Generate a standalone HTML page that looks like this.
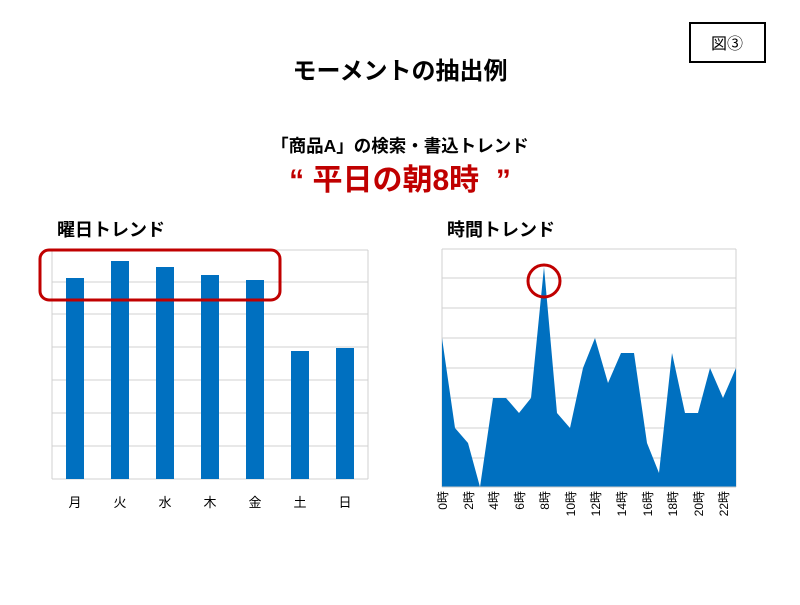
<!DOCTYPE html>
<html><head><meta charset="utf-8"><style>
body{margin:0;width:800px;height:600px;background:#fff;overflow:hidden}
svg text{font-family:"Liberation Sans","Noto Sans CJK JP",sans-serif}
</style></head><body>
<svg width="800" height="600" xmlns="http://www.w3.org/2000/svg">
<rect x="690" y="23" width="75" height="39" fill="none" stroke="#000" stroke-width="2"/>
<text x="727" y="49" font-size="16" text-anchor="middle">図③</text>
<text x="400" y="79" font-size="24" font-weight="bold" text-anchor="middle">モーメントの抽出例</text>
<text x="400" y="152" font-size="17.5" font-weight="bold" text-anchor="middle">「商品A」の検索・書込トレンド</text>
<text x="400" y="190" font-size="30" font-weight="bold" fill="#c00000" text-anchor="middle" xml:space="preserve">“ 平日の朝8時  ”</text>
<text x="57" y="236" font-size="18" font-weight="bold">曜日トレンド</text>
<text x="447" y="236" font-size="18" font-weight="bold">時間トレンド</text>
<g stroke="#d0d0d0" stroke-width="1">
<line x1="52" y1="250" x2="368" y2="250"/><line x1="52" y1="282" x2="368" y2="282"/><line x1="52" y1="314" x2="368" y2="314"/><line x1="52" y1="347" x2="368" y2="347"/><line x1="52" y1="380" x2="368" y2="380"/><line x1="52" y1="413" x2="368" y2="413"/><line x1="52" y1="446" x2="368" y2="446"/>
<line x1="52" y1="250" x2="52" y2="479"/><line x1="368" y1="250" x2="368" y2="479"/>
<line x1="52" y1="479" x2="368" y2="479"/>
</g>
<g fill="#0070c0">
<rect x="66" y="278" width="18" height="201"/><rect x="111" y="261" width="18" height="218"/><rect x="156" y="267" width="18" height="212"/><rect x="201" y="275" width="18" height="204"/><rect x="246" y="280" width="18" height="199"/><rect x="291" y="351" width="18" height="128"/><rect x="336" y="348" width="18" height="131"/>
</g>
<g font-size="13" text-anchor="middle"><text x="75" y="507">月</text><text x="120" y="507">火</text><text x="165" y="507">水</text><text x="210" y="507">木</text><text x="255" y="507">金</text><text x="300" y="507">土</text><text x="345" y="507">日</text></g>
<rect x="40" y="250" width="240" height="50" rx="9" fill="none" stroke="#c00000" stroke-width="3"/>
<g stroke="#d0d0d0" stroke-width="1">
<line x1="442" y1="249" x2="736" y2="249"/><line x1="442" y1="278" x2="736" y2="278"/><line x1="442" y1="308" x2="736" y2="308"/><line x1="442" y1="338" x2="736" y2="338"/><line x1="442" y1="368" x2="736" y2="368"/><line x1="442" y1="398" x2="736" y2="398"/><line x1="442" y1="428" x2="736" y2="428"/><line x1="442" y1="458" x2="736" y2="458"/>
<line x1="442" y1="249" x2="442" y2="487"/><line x1="736" y1="249" x2="736" y2="487"/>
</g>
<polygon fill="#0070c0" points="442,487 442,338 455,428 468,443 480,487 493,398 506,398 519,413 531,398 544,267 557,413 570,428 583,368 595,338 608,383 621,353 634,353 647,443 659,473 672,353 685,413 698,413 710,368 723,398 736,368 736,487"/>
<line x1="442" y1="487" x2="736" y2="487" stroke="#c8c8c8"/>
<circle cx="544" cy="281" r="16" fill="none" stroke="#c00000" stroke-width="3"/>
<g font-size="12" text-anchor="end">
<text transform="translate(447,491) rotate(-90)">0時</text>
<text transform="translate(473,491) rotate(-90)">2時</text>
<text transform="translate(498,491) rotate(-90)">4時</text>
<text transform="translate(524,491) rotate(-90)">6時</text>
<text transform="translate(549,491) rotate(-90)">8時</text>
<text transform="translate(575,491) rotate(-90)">10時</text>
<text transform="translate(600,491) rotate(-90)">12時</text>
<text transform="translate(626,491) rotate(-90)">14時</text>
<text transform="translate(652,491) rotate(-90)">16時</text>
<text transform="translate(677,491) rotate(-90)">18時</text>
<text transform="translate(703,491) rotate(-90)">20時</text>
<text transform="translate(728,491) rotate(-90)">22時</text>
</g>
</svg>
</body></html>
